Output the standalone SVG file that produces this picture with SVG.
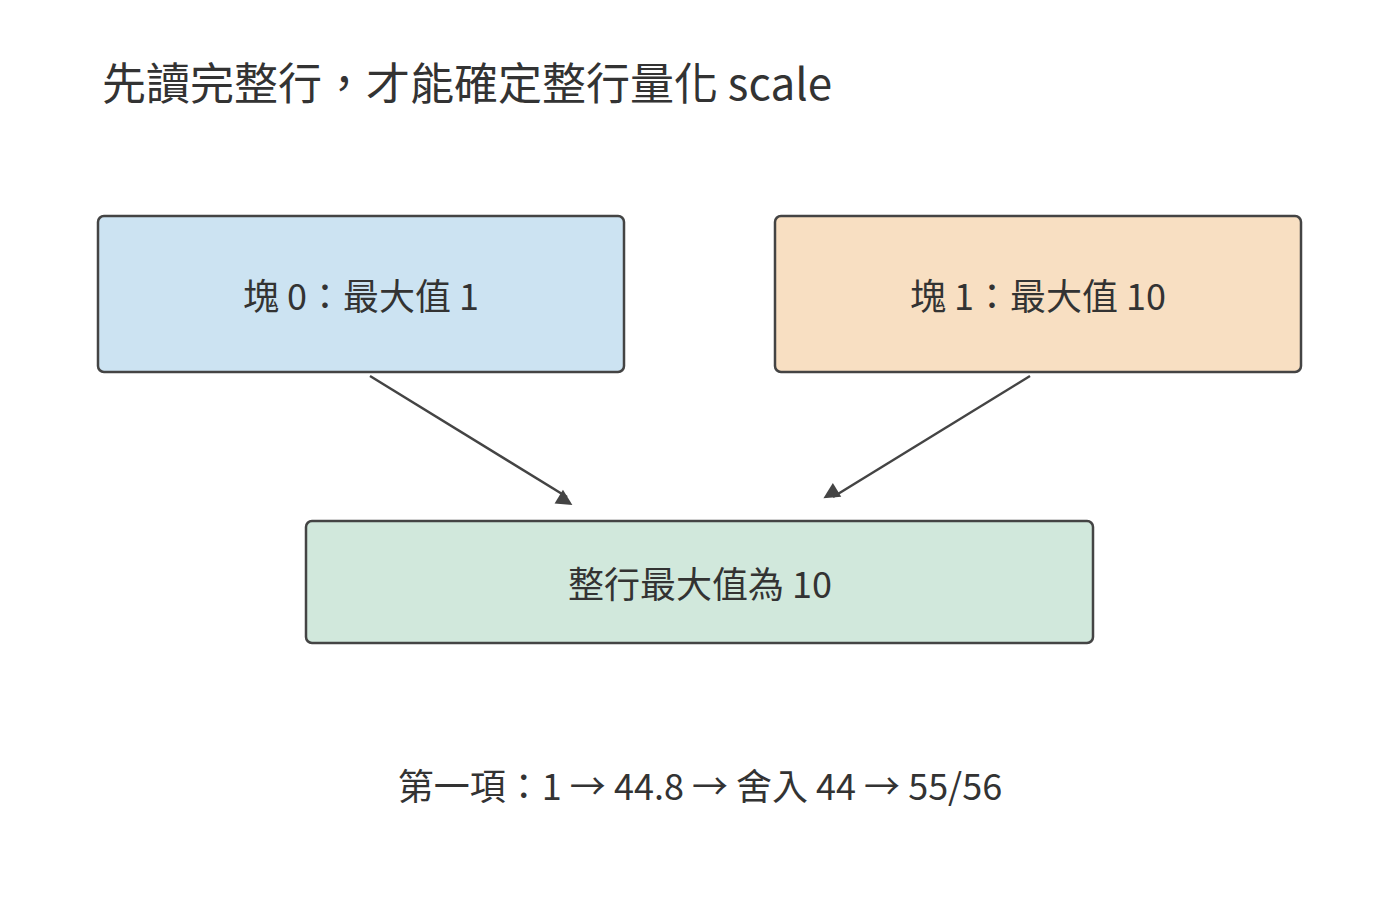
<svg xmlns="http://www.w3.org/2000/svg" width="1400" height="912" viewBox="0 0 1400 912">
<style>
text{font-family:"Noto Sans CJK TC","Noto Sans",sans-serif;fill:#333}
.b{stroke:#444;stroke-width:2.5}
.l{font-size:36px;text-anchor:middle;dominant-baseline:central}
.c{stroke:#444;stroke-width:2.5;fill:none;marker-end:url(#a)}
</style>
<defs><marker id="a" viewBox="0 0 10 10" refX="9" refY="5" markerWidth="8" markerHeight="8" markerUnits="userSpaceOnUse" orient="auto" style="overflow:visible"><path d="M0,0L10,5L0,10z" fill="#444" transform="scale(2)"/></marker></defs>
<rect width="1400" height="912" fill="#fff"/>
<text x="102" y="100" font-size="44">先讀完整行，才能確定整行量化 scale</text>
<g id="n0"><rect class="b" x="98" y="216" width="526" height="156" rx="6" fill="#cce3f2"/><text class="l" x="361" y="294">塊 0：最大值 1</text></g>
<g id="n1"><rect class="b" x="775" y="216" width="526" height="156" rx="6" fill="#f8dfc2"/><text class="l" x="1038" y="294">塊 1：最大值 10</text></g>
<g id="n2"><rect class="b" x="306" y="521" width="787" height="122" rx="6" fill="#d1e8dc"/><text class="l" x="700" y="582">整行最大值為 10</text></g>
<g id="connectors"><path class="c" d="M370,376L567,497"/><path class="c" d="M1030,376L833,497"/></g>
<text class="l" x="700" y="784">第一項：1 → 44.8 → 舍入 44 → 55/56</text>
</svg>
